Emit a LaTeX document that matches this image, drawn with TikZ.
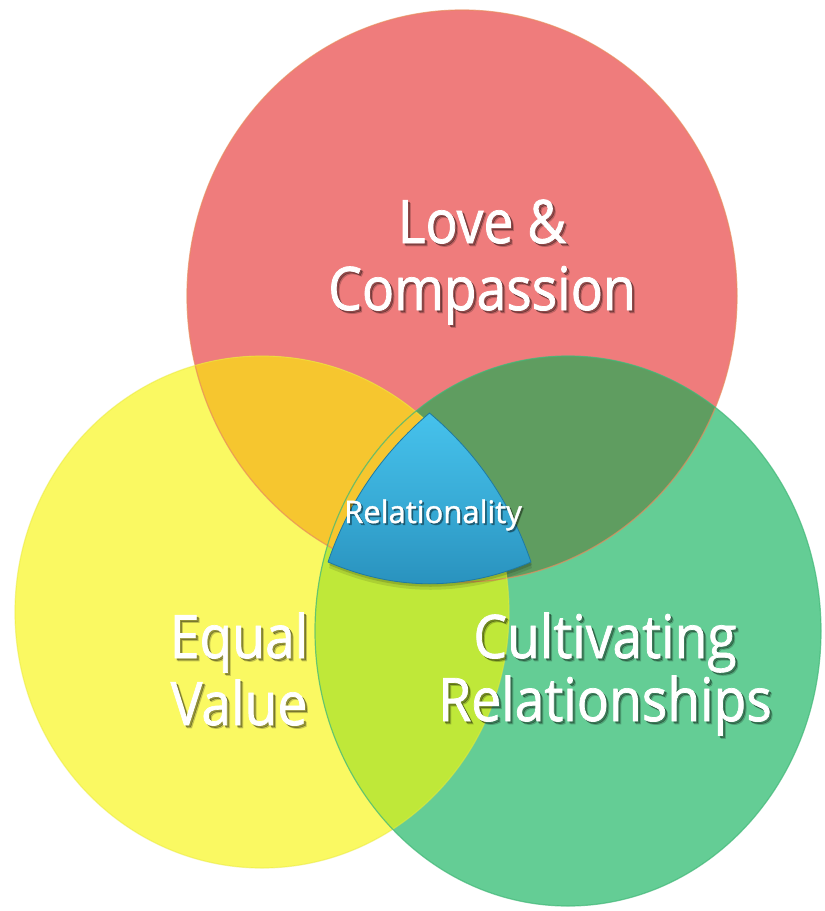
\documentclass[tikz,border=0pt]{standalone}
\usepackage{fontspec}
\newfontfamily\labelfont[FakeStretch=0.89,FakeBold=1.2]{Open Sans}
\newfontfamily\centrefont[FakeBold=1.2]{Open Sans}
\begin{document}
\begin{tikzpicture}[x=1pt,y=-1pt,
  lbl/.style={text=white, align=center, anchor=base, inner sep=0pt},
  big/.style={font=\labelfont\fontsize{60}{67}\selectfont},
  bigtight/.style={font=\labelfont\fontsize{60}{63}\selectfont},
  small/.style={font=\centrefont\fontsize{31}{36}\selectfont},
  shade1/.style={text=black, text opacity=0.30},
  shade2/.style={text=black, text opacity=0.14}]
\definecolor{redc}{HTML}{EF7C7C}
\definecolor{rededge}{HTML}{E88A5E}
\definecolor{yelc}{HTML}{FAF962}
\definecolor{yeledge}{HTML}{EAEA3C}
\definecolor{grnc}{HTML}{64CD95}
\definecolor{grnedge}{HTML}{42B878}
\definecolor{orangec}{HTML}{F6C62F}
\definecolor{dkgrnc}{HTML}{5F9D60}
\definecolor{limec}{HTML}{BFE839}
\definecolor{bluetop}{HTML}{46C2EC}
\definecolor{bluebot}{HTML}{2890BC}
\definecolor{blueedge}{HTML}{1E7AA3}

\useasboundingbox (0,0) rectangle (825,911);
\fill[white] (0,0) rectangle (825,911);

% the three sets
\def\redpath{(462,296) ellipse [x radius=275pt, y radius=286pt]}
\def\yelpath{(262,612) ellipse [x radius=247pt, y radius=256pt]}
\def\grnpath{(568,631) ellipse [x radius=253pt, y radius=275pt]}

\fill[redc] \redpath;
\fill[yelc] \yelpath;
\fill[grnc] \grnpath;
\begin{scope}
  \clip \redpath;
  \fill[orangec] \yelpath;
  \fill[dkgrnc] \grnpath;
\end{scope}
\begin{scope}
  \clip \yelpath;
  \fill[limec] \grnpath;
  % the common part sits under the central badge
  \clip \redpath;
  \fill[orangec] \grnpath;
  \fill[limec] (300,566) rectangle (540,600);
\end{scope}
\draw[rededge, line width=1.2pt, opacity=0.7] \redpath;
\draw[yeledge, line width=1.2pt, opacity=0.5] \yelpath;
\draw[grnedge, line width=1.2pt, opacity=0.7] \grnpath;

% central rounded triangle
\def\bluepath{(429.5,413)
  .. controls (381.4,453.8) and (348,503.4) .. (328,562)
  .. controls (395.7,591) and (463.3,591) .. (531,562)
  .. controls (511,503.4) and (477.6,453.8) .. (429.5,413) -- cycle}
\fill[black, opacity=0.10, shift={(1,6)}] \bluepath;
\fill[black, opacity=0.15, shift={(1,3)}] \bluepath;
\shade[top color=bluetop, bottom color=bluebot, middle color=bluetop!55!bluebot] \bluepath;
\draw[blueedge, line width=0.8pt, line join=round] \bluepath;

% labels with soft drop shadows
\node[lbl, big, shade2] (love-s2) at (485,313) {Love \&\\Compassion};
\node[lbl, big, shade1] (love-s1) at (484,312) {Love \&\\Compassion};
\node[lbl, big] (love) at (482,310) {Love \&\\Compassion};

\node[lbl, big, shade2] (equal-s2) at (242,728) {Equal\\Value};
\node[lbl, big, shade1] (equal-s1) at (241,727) {Equal\\Value};
\node[lbl, big] (equal) at (239,725) {Equal\\Value};

\node[lbl, bigtight, shade2] (cult-s2) at (608,724) {Cultivating\\Relationships};
\node[lbl, bigtight, shade1] (cult-s1) at (607,723) {Cultivating\\Relationships};
\node[lbl, bigtight] (cult) at (605,721) {Cultivating\\Relationships};

\node[lbl, small, shade2] (rel-s2) at (435,525) {Relationality};
\node[lbl, small, shade1] (rel-s1) at (434.5,524.5) {Relationality};
\node[lbl, small] (rel) at (433,523) {Relationality};
\end{tikzpicture}
\end{document}
